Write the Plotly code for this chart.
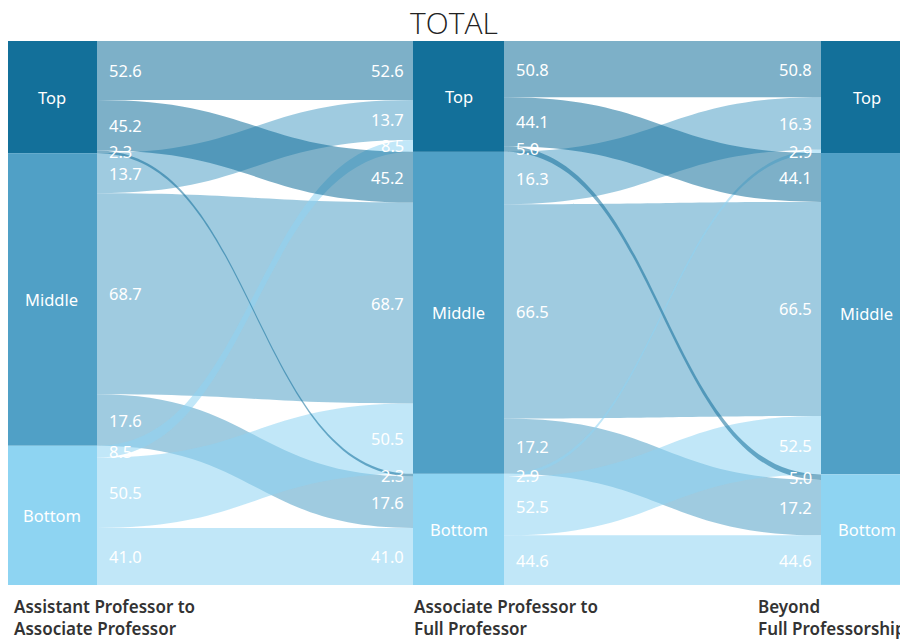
import plotly.graph_objects as go

# ---------------- data ----------------
levels = ["Top", "Middle", "Bottom"]
stage_labels = [["Assistant Professor to", "Associate Professor"],
                ["Associate Professor to", "Full Professor"],
                ["Beyond", "Full Professorship"]]
start_share = [20.6, 53.8, 25.6]          # share of each level at the first stage
stage1_pct = [[52.6, 45.2, 2.3],           # Top    -> Top, Middle, Bottom
              [13.7, 68.7, 17.6],          # Middle -> ...
              [8.5, 50.5, 41.0]]           # Bottom -> ...
stage2_pct = [[50.8, 44.1, 5.0],
              [16.3, 66.5, 17.2],
              [2.9, 52.5, 44.6]]

# ---------------- style / layout ----------------
PAGE_OFF = 8                      # browser body margin
W, H = 908 - PAGE_OFF, 640 - PAGE_OFF
M_TOP = 41 - PAGE_OFF
M_BOT = H - (585 - PAGE_OFF)
PLOT_H = H - M_TOP - M_BOT
NODE_T = 91
col_center_px = [51.5 - PAGE_OFF, 458.5 - PAGE_OFF, 866.5 - PAGE_OFF]
node_colors = ["#13709A", "#50A0C6", "#8ED4F2"]
LINK_ALPHA = 0.55
FONT = "Noto Sans"
source_draw_order = [1, 2, 0]   # Middle, Bottom, Top sources drawn in this order


def rgba(hexc, a):
    hexc = hexc.lstrip("#")
    r, g, b = int(hexc[0:2], 16), int(hexc[2:4], 16), int(hexc[4:6], 16)
    return f"rgba({r},{g},{b},{a})"


# ---------------- build links ----------------
links = []  # (src_node, tgt_node, value, pct, src_level)
mid_in = [0.0, 0.0, 0.0]
for l in range(3):
    for m in range(3):
        v = start_share[l] * stage1_pct[l][m] / 100.0
        mid_in[m] += v
        links.append((l, 3 + m, v, stage1_pct[l][m], l))
for l in range(3):
    for m in range(3):
        v = mid_in[l] * stage2_pct[l][m] / 100.0
        links.append((3 + l, 6 + m, v, stage2_pct[l][m], l))

n_nodes = 9
in_sum = [0.0] * n_nodes
out_sum = [0.0] * n_nodes
for s, t, v, p, lv in links:
    out_sum[s] += v
    in_sum[t] += v
node_val = [max(in_sum[i], out_sum[i]) for i in range(n_nodes)]
col_sums = [sum(node_val[c * 3:(c + 1) * 3]) for c in range(3)]
max_sum = max(col_sums)

node_top = [0.0] * n_nodes
for c in range(3):
    cum = 0.0
    for k in range(3):
        node_top[c * 3 + k] = cum
        cum += node_val[c * 3 + k]
node_x = [col_center_px[i // 3] / W for i in range(n_nodes)]
node_y = [(node_top[i] + node_val[i] / 2) / max_sum for i in range(n_nodes)]

# label positions at both ends of each link (ordering like d3-sankey)
src_off = [0.0] * n_nodes
tgt_off = [0.0] * n_nodes
label_src = []
label_tgt = []
for s, t, v, p, lv in links:  # links already sorted by source then target
    label_src.append((s, (node_top[s] + src_off[s] + v / 2) / max_sum, p))
    src_off[s] += v
for t in range(n_nodes):
    inc = sorted([lk for lk in links if lk[1] == t], key=lambda x: x[0])
    for s, tt, v, p, lv in inc:
        label_tgt.append((t, (node_top[t] + tgt_off[t] + v / 2) / max_sum, p))
        tgt_off[t] += v

ordered = []
for stage in range(2):
    for lv in source_draw_order:
        for lk in links[stage * 9:(stage + 1) * 9]:
            if lk[4] == lv:
                ordered.append(lk)

fig = go.Figure(go.Sankey(
    arrangement="fixed",
    domain=dict(x=[0, 1], y=[0, 1]),
    node=dict(
        label=[levels[i % 3] for i in range(n_nodes)],
        color=[node_colors[i % 3] for i in range(n_nodes)],
        x=node_x, y=node_y,
        pad=0, thickness=NODE_T,
        line=dict(width=0),
        hovertemplate="%{label}<extra></extra>",
    ),
    link=dict(
        source=[lk[0] for lk in ordered],
        target=[lk[1] for lk in ordered],
        value=[lk[2] for lk in ordered],
        customdata=[lk[3] for lk in ordered],
        color=[rgba(node_colors[lk[4]], LINK_ALPHA) for lk in ordered],
        line=dict(width=0),
        hovertemplate="%{source.label} → %{target.label}: %{customdata:.1f}%<extra></extra>",
    ),
    textfont=dict(color="rgba(0,0,0,0)", size=1),
))

ann = []
# node labels
for i in range(n_nodes):
    ann.append(dict(x=node_x[i], y=1 - node_y[i], xref="paper", yref="paper",
                    text=levels[i % 3], showarrow=False, xanchor="center", yanchor="middle",
                    font=dict(family=FONT, size=16.5, color="white")))
# link labels
for n, yf, p in label_src:
    ann.append(dict(x=node_x[n], y=1 - yf, xref="paper", yref="paper",
                    xshift=NODE_T / 2 + 10, text=f"{p:.1f}", showarrow=False,
                    xanchor="left", yanchor="middle",
                    font=dict(family=FONT, size=16.5, color="white")))
for n, yf, p in label_tgt:
    ann.append(dict(x=node_x[n], y=1 - yf, xref="paper", yref="paper",
                    xshift=-(NODE_T / 2 + 7), text=f"{p:.1f}", showarrow=False,
                    xanchor="right", yanchor="middle",
                    font=dict(family=FONT, size=16.5, color="white")))
# stage labels
stage_x_px = [12 - PAGE_OFF, 412 - PAGE_OFF, 756 - PAGE_OFF]
for c in range(3):
    for j, line in enumerate(stage_labels[c]):
        ypx = 606 - PAGE_OFF + 22 * j
        ann.append(dict(x=stage_x_px[c] / W, y=1 - (ypx - M_TOP) / PLOT_H,
                        xref="paper", yref="paper", text=line, showarrow=False,
                        xanchor="left", yanchor="middle",
                        font=dict(family=FONT, size=17, color="#333333", weight=600)))

fig.update_layout(
    width=W, height=H,
    margin=dict(l=0, r=0, t=M_TOP, b=M_BOT),
    paper_bgcolor="white",
    title=dict(text="TOTAL", x=0.5 - (PAGE_OFF / 2) / W, xanchor="center",
               y=1 - (23 - PAGE_OFF) / H, yanchor="middle",
               font=dict(family="Open Sans", size=30, color="#222222", weight=300)),
    annotations=ann,
    font=dict(family=FONT),
)

fig.write_html("out.html")
